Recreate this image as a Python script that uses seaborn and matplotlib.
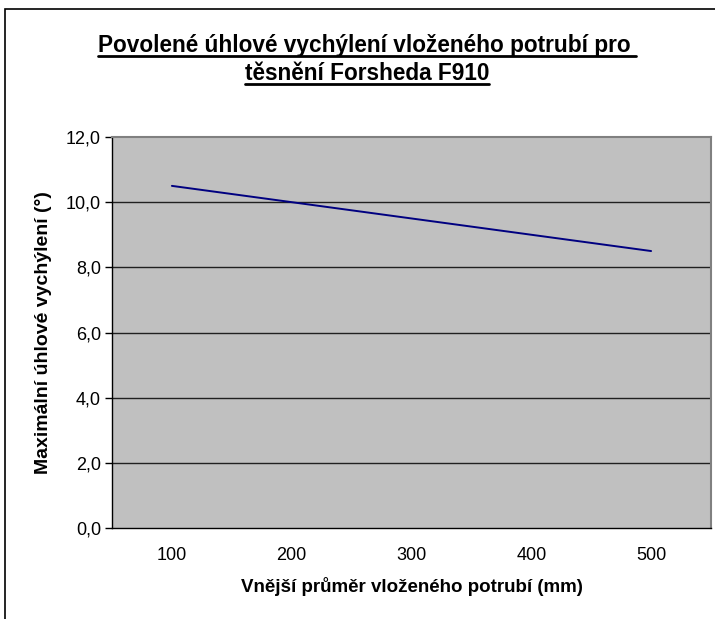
import matplotlib
matplotlib.use("Agg")
import matplotlib.pyplot as plt
import matplotlib.patches as patches
import numpy as np
import seaborn as sns

sns.set_theme(style="white")
plt.rcParams["font.family"] = ["Liberation Sans", "DejaVu Sans"]
plt.rcParams["text.color"] = "black"
plt.rcParams["axes.labelcolor"] = "black"
plt.rcParams["xtick.color"] = "black"
plt.rcParams["ytick.color"] = "black"

# data
diameters = ["100", "200", "300", "400", "500"]
max_angle = [10.5, 10.0, 9.5, 9.0, 8.5]
y_ticks = [0, 2, 4, 6, 8, 10, 12]
title_lines = ["Povolené úhlové vychýlení vloženého potrubí pro ",
               "těsnění Forsheda F910"]

fig = plt.figure(figsize=(7.15, 6.19), dpi=100)
ax = fig.add_axes([112 / 715, 1 - 528 / 619, 599 / 715, 391 / 619])

# outer chart frame (runs off the right and bottom edge like the original)
frame = patches.Rectangle(
    (5 / 715, -0.05), 1.2, 1 - 9 / 619 + 0.05,
    transform=fig.transFigure, fill=False, edgecolor="black", linewidth=1.2,
    zorder=0,
)
fig.patches.append(frame)

ax.set_facecolor("#C0C0C0")
pos = np.arange(len(diameters))
sns.lineplot(x=pos, y=max_angle, ax=ax, color="#000080", linewidth=1.4, zorder=3)

ax.set_xlim(-0.5, len(diameters) - 0.5)
ax.set_ylim(0, 12)

ax.set_yticks(y_ticks)
ax.set_yticklabels([f"{v:.1f}".replace(".", ",") for v in y_ticks], fontsize=13)
for v in y_ticks[1:-1]:
    ax.axhline(v, color="#202020", linewidth=1.0, zorder=2)

ax.set_xticks(pos)
ax.set_xticklabels(diameters, fontsize=13)
ax.set_xticks(np.arange(-0.5, len(diameters)), minor=True)
ax.tick_params(axis="x", which="major", length=0, pad=14)
ax.tick_params(axis="x", which="minor", length=5, width=1, color="black", direction="out")
ax.tick_params(axis="y", length=5, width=1, color="black", direction="out", pad=3,
               left=True)

for side in ["left", "bottom"]:
    ax.spines[side].set_color("black")
    ax.spines[side].set_linewidth(1.0)
for side in ["top", "right"]:
    ax.spines[side].set_color("#808080")
    ax.spines[side].set_linewidth(1.5)

ax.set_xlabel("Vnější průměr vloženého potrubí (mm)", fontsize=13.5,
              fontweight="bold", labelpad=9)
ax.set_ylabel("Maximální úhlové vychýlení (°)", fontsize=14,
              fontweight="bold", labelpad=10)

# title, two lines, underlined (pixel baselines from the top)
title_base = [52, 80]
fig.canvas.draw()
renderer = fig.canvas.get_renderer()
for line, y in zip(title_lines, title_base):
    t = fig.text(367 / 715, 1 - y / 619, line, ha="center", va="baseline",
                 fontsize=16.3, fontweight="bold")
    bb = t.get_window_extent(renderer=renderer)
    uy = 619 - y - 4
    fig.add_artist(plt.Line2D([bb.x0, bb.x1], [uy, uy], transform=None,
                              color="black", linewidth=2.0))

fig.savefig("out.png", dpi=100)
